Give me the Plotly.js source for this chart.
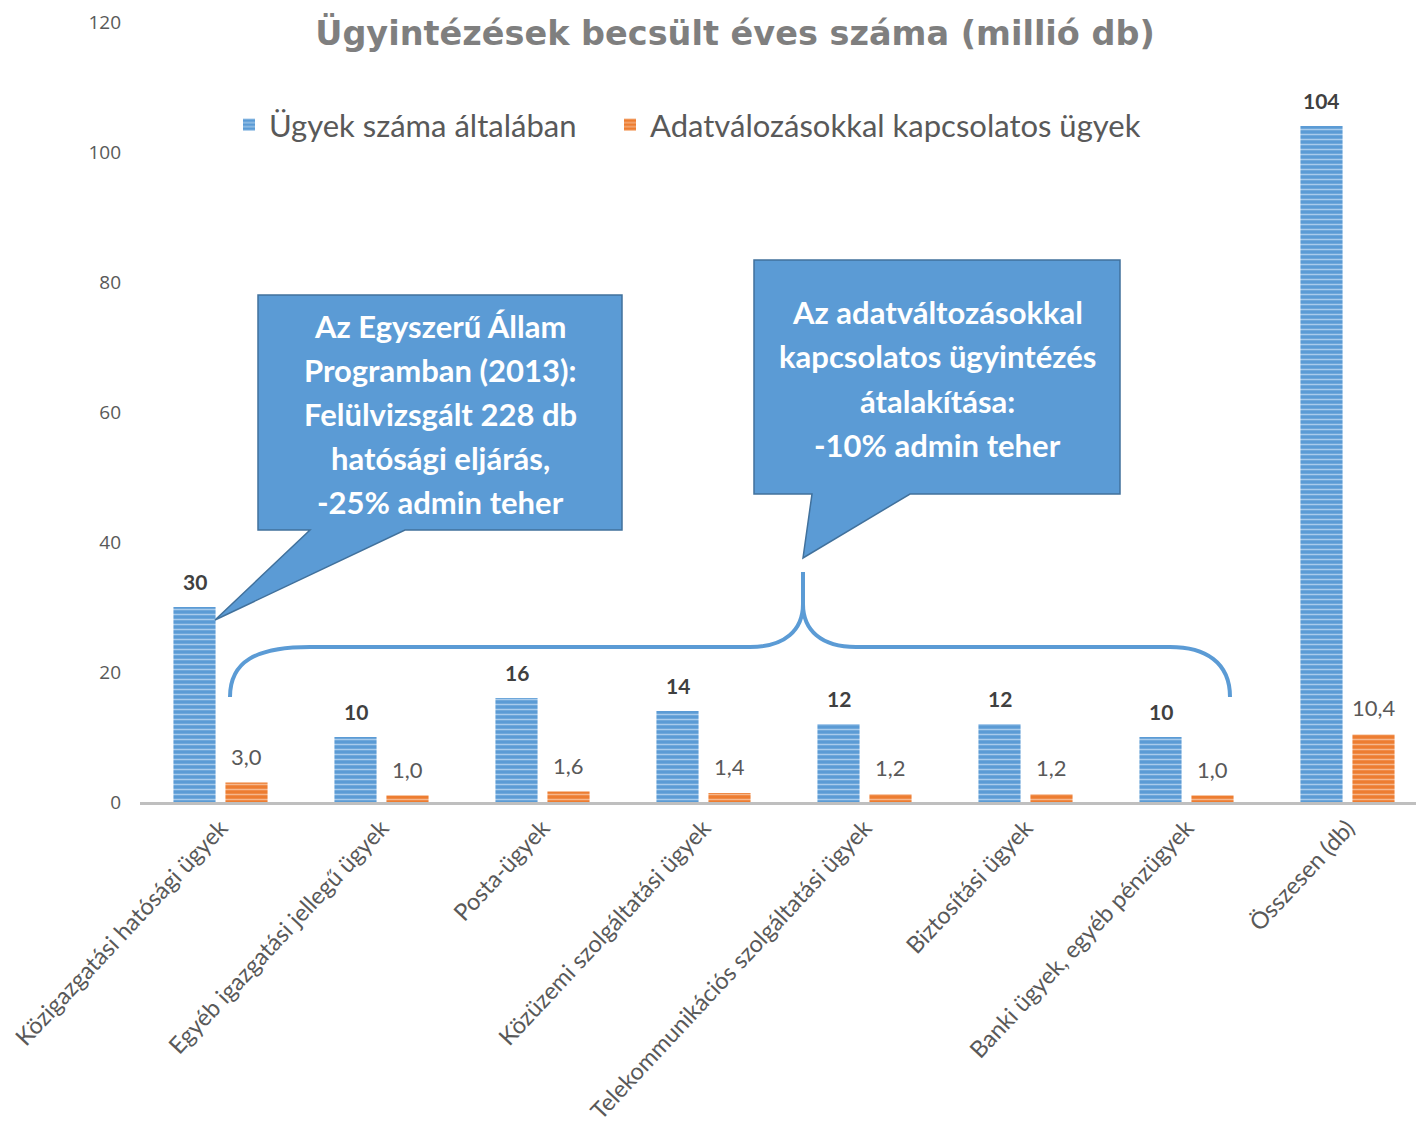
<!DOCTYPE html>
<html>
<head>
<meta charset="utf-8">
<script src="https://cdn.plot.ly/plotly-3.0.1.min.js"></script>
<style>html,body{margin:0;padding:0;background:#fff;}</style>
</head>
<body>
<div id="chart" style="width:1416px;height:1138px;"></div>
<script>
// ---- data ----
const categories = [
  "Közigazgatási hatósági ügyek",
  "Egyéb igazgatási jellegű ügyek",
  "Posta-ügyek",
  "Közüzemi szolgáltatási ügyek",
  "Telekommunikációs szolgáltatási ügyek",
  "Biztosítási ügyek",
  "Banki ügyek, egyéb pénzügyek",
  "Összesen (db)"
];
const generalCases = [30, 10, 16, 14, 12, 12, 10, 104];
const dataChangeCases = [3.0, 1.0, 1.6, 1.4, 1.2, 1.2, 1.0, 10.4];
const seriesNames = ["Ügyek száma általában", "Adatválozásokkal kapcsolatos ügyek"];
const chartTitle = "Ügyintézések becsült éves száma (millió db)";
const callout1Lines = ["Az Egyszerű Állam", "Programban (2013):", "Felülvizsgált 228 db", "hatósági eljárás,", "-25% admin teher"];
const callout2Lines = ["Az adatváltozásokkal", "kapcsolatos ügyintézés", "átalakítása:", "-10% admin teher"];
const yTicks = [0, 20, 40, 60, 80, 100, 120];

// ---- geometry helpers (pixel -> paper) ----
const W = 1416, H = 1138, ML = 140, MR = 0, MT = 22, MB = 336;
const PW = W - ML - MR, PH = H - MT - MB;
const px = x => (x - ML) / PW;
const py = y => (H - MB - y) / PH;
const toPaperPath = s => s.replace(/(-?\d+\.?\d*),(-?\d+\.?\d*)/g,
  (m, a, b) => px(+a).toFixed(5) + "," + py(+b).toFixed(5));

const fmtHU = v => v.toFixed(1).replace(".", ",");

const blue = "#5B9BD5", orange = "#ED7D31";

const traces = [
  {
    type: "bar", name: seriesNames[0], x: categories, y: generalCases, legend: "legend",
    marker: {color: blue, line: {width: 0},
      pattern: {shape: "-", fgcolor: "#A8CBEC", bgcolor: blue, size: 5, solidity: 0.3}},
    hoverinfo: "none"
  },
  {
    type: "bar", name: seriesNames[1], x: categories, y: dataChangeCases, legend: "legend2",
    marker: {color: orange, line: {width: 0},
      pattern: {shape: "-", fgcolor: "#F6B78C", bgcolor: orange, size: 5, solidity: 0.3}},
    hoverinfo: "none"
  }
];

const annotations = [];
categories.forEach((c, i) => {
  annotations.push({x: c, y: generalCases[i], xref: "x", yref: "y", text: String(generalCases[i]),
    showarrow: false, xshift: -26, yshift: 11, yanchor: "bottom",
    font: {family: "Lato", size: 21, color: "#404040", weight: 700}});
  annotations.push({x: c, y: dataChangeCases[i], xref: "x", yref: "y", text: fmtHU(dataChangeCases[i]),
    showarrow: false, xshift: 26, yshift: 11, yanchor: "bottom",
    font: {family: "Lato", size: 22, color: "#595959"}});
});

const calloutFont = {family: "Lato", size: 31, color: "#ffffff", weight: 700};
const c1Y = [326, 370, 414, 458, 502];
callout1Lines.forEach((t, i) => annotations.push({
  xref: "paper", yref: "paper", x: px(440), y: py(c1Y[i]), text: t, showarrow: false,
  xanchor: "center", yanchor: "middle", font: calloutFont}));
const c2Y = [312, 356, 401, 445];
callout2Lines.forEach((t, i) => annotations.push({
  xref: "paper", yref: "paper", x: px(937), y: py(c2Y[i]), text: t, showarrow: false,
  xanchor: "center", yanchor: "middle", font: calloutFont}));

const shapes = [
  {type: "path", xref: "paper", yref: "paper",
   path: toPaperPath("M258,295 L622,295 L622,530 L405,530 L215,620 L310,530 L258,530 Z"),
   fillcolor: blue, line: {color: "#41719C", width: 1.5}, layer: "above"},
  {type: "path", xref: "paper", yref: "paper",
   path: toPaperPath("M754,260 L1120,260 L1120,494 L910,494 L803,558 L812,494 L754,494 Z"),
   fillcolor: blue, line: {color: "#41719C", width: 1.5}, layer: "above"},
  {type: "path", xref: "paper", yref: "paper",
   path: toPaperPath("M230,697 C230,662 255,647 310,647 L750,647 C785,647 803,630 803,604 L803,572 M803,604 C803,630 821,647 856,647 L1170,647 C1205,647 1230,662 1230,697"),
   line: {color: blue, width: 4}, layer: "above"}
];

const legendFont = {family: "Lato", size: 31, color: "#595959"};

const layout = {
  width: W, height: H,
  margin: {l: ML, r: MR, t: MT, b: MB, autoexpand: false},
  paper_bgcolor: "#fff", plot_bgcolor: "#fff",
  separators: ", ",
  title: {text: chartTitle, xref: "container", yref: "container", x: 735 / W, y: 1 - 33 / H,
    xanchor: "center", yanchor: "middle",
    font: {family: "DejaVu Sans", size: 33.5, color: "#7F7F7F", weight: 700}},
  barmode: "group", bargap: 0.354, bargroupgap: 0.19,
  showlegend: true,
  legend: {orientation: "h", xref: "paper", yref: "paper", x: px(229), y: py(125),
    xanchor: "left", yanchor: "middle", font: legendFont, bgcolor: "rgba(0,0,0,0)"},
  legend2: {orientation: "h", xref: "paper", yref: "paper", x: px(610), y: py(125),
    xanchor: "left", yanchor: "middle", font: legendFont, bgcolor: "rgba(0,0,0,0)"},
  xaxis: {type: "category", range: [-0.5, -0.5 + PW / 161], tickangle: -47,
    showline: true, linecolor: "#BFBFBF", linewidth: 3, showgrid: false, zeroline: false,
    ticks: "", tickfont: {family: "Lato", size: 23.5, color: "#595959"}, fixedrange: true},
  yaxis: {range: [0, 120], tickvals: yTicks, showgrid: false, zeroline: false, showline: false,
    ticks: "", ticklabelstandoff: 18, tickfont: {family: "Open Sans", size: 19, color: "#595959"},
    fixedrange: true},
  annotations: annotations,
  shapes: shapes
};

Plotly.newPlot("chart", traces, layout, {displayModeBar: false, staticPlot: true});
</script>
</body>
</html>
